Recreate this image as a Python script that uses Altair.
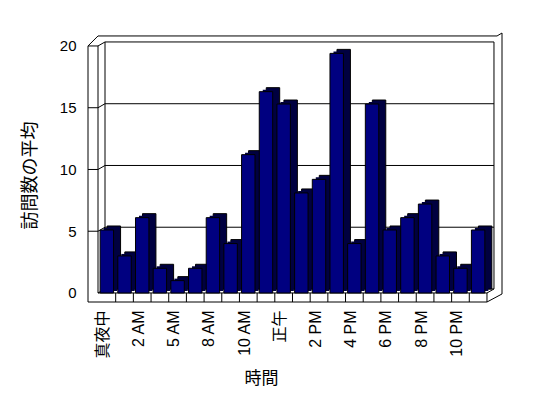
import json
import altair as alt
import pandas as pd

# ---- data -------------------------------------------------------------
hours = ["真夜中", "1 AM", "2 AM", "4 AM", "5 AM", "7 AM", "8 AM", "9 AM", "10 AM", "11 AM", "正午",
         "1 PM", "2 PM", "3 PM", "4 PM", "5 PM", "6 PM", "7 PM", "8 PM", "9 PM", "10 PM", "11 PM"]
visits = [5.1, 3.0, 6.1, 2.0, 1.0, 2.0, 6.1, 4.0, 11.2, 16.3, 15.3,
          8.1, 9.2, 19.4, 4.0, 15.3, 5.1, 6.1, 7.2, 3.0, 2.0, 5.1]
y_ticks = [0, 5, 10, 15, 20]
x_title = "時間"
y_title = "訪問数の平均"

# ---- 3D frame geometry (in axis units) --------------------------------
N = len(hours)
VMAX = y_ticks[-1]
WALL = 0.566     # left wall thickness
FLOOR = 0.73     # floor thickness
DU, DV = 0.396, 0.324   # depth offset
TOP = 20.81
XDOM = [-WALL, N + 0.85]
YDOM = [-FLOOR, 21.05]
PLOT_W, PLOT_H = 414, 269

FONT = "Liberation Sans, Noto Sans CJK JP"
label_js = json.dumps(hours, ensure_ascii=False)

xscale = alt.Scale(domain=XDOM, nice=False, zero=False)
yscale = alt.Scale(domain=YDOM, nice=False, zero=False)

xaxis = alt.Axis(
    values=[i + 0.5 for i in range(0, N, 2)],
    labelExpr=f"{label_js}[floor(datum.value)]",
    labelAngle=-90, labelAlign="right", labelBaseline="middle",
    labelPadding=8, labelOffset=-4, labelOverlap=False, labelFlush=False,
    labelFont=FONT, labelColor="black", labelFontSize=16,
    ticks=False, domain=False, grid=False,
    title=x_title, titleFont=FONT, titleFontSize=17, titleFontWeight="normal",
    titleColor="black", titleX=173, titleY=76, titleBaseline="middle", titleAlign="center",
)
yaxis = alt.Axis(
    values=y_ticks, labelPadding=12, labelFont=FONT, labelFontSize=15, labelColor="black",
    ticks=False, domain=False, grid=False,
    title=y_title, titleFont=FONT, titleFontSize=18, titleFontWeight="normal",
    titleColor="black", titleX=-58, titleY=142, titleBaseline="middle", titleAlign="center",
    titleAngle=-90,
)

# ---- frame lines --------------------------------------------------------
segs = []
def seg(name, pts):
    for k, (u, v) in enumerate(pts):
        segs.append({"seg": name, "o": k, "u": u, "v": v})

for g in y_ticks[1:]:
    seg(f"grid{g}", [(-WALL, g), (0, g), (DU, g + DV), (N + DU, g + DV)])
seg("floorback", [(0, 0), (DU, DV), (N + DU, DV)])
seg("backleft", [(DU, DV), (DU, VMAX + DV)])
seg("backright", [(N + DU, DV), (N + DU, VMAX + DV)])
seg("floorright", [(N, 0), (N + DU, DV)])
seg("wallouter", [(-WALL, -FLOOR), (-WALL, VMAX), (0, TOP), (N + 0.57, TOP),
                  (N + 0.85, YDOM[1]), (N + 0.85, -0.08), (N, -FLOOR), (-WALL, -FLOOR)])
seg("wallinner", [(0, 0), (0, VMAX)])
seg("floorfront", [(0, 0), (N, 0), (N, -FLOOR)])
for k in range(1, N):
    seg(f"cell{k}", [(k, 0), (k, -FLOOR)])
frame = pd.DataFrame(segs)

lines = alt.Chart(frame).mark_line(color="black", strokeWidth=1).encode(
    x=alt.X("u:Q", scale=xscale, axis=xaxis),
    y=alt.Y("v:Q", scale=yscale, axis=yaxis),
    detail="seg:N",
    order="o:Q",
)

# ---- bars ---------------------------------------------------------------
df = pd.DataFrame({"hour": hours, "visits": visits, "idx": list(range(N))})
base = alt.Chart(df).transform_calculate(x0="datum.idx + 0.12", x1="datum.idx + 0.88")

def bar_layer(dx, dy, fill, stroke):
    kw = dict(fill=fill, xOffset=dx, x2Offset=dx, yOffset=dy, y2Offset=dy)
    if stroke:
        kw.update(stroke="black", strokeWidth=1)
    return base.mark_rect(**kw).encode(
        x=alt.X("x0:Q", scale=xscale, axis=xaxis),
        x2="x1:Q",
        y=alt.Y("visits:Q", scale=yscale, axis=yaxis),
        y2=alt.datum(0),
    )

shadow = bar_layer(7, -4, "#000040", True)
shadow_mid = bar_layer(3.5, -2, "#000040", False)
front = bar_layer(0, 0, "#000080", True)

chart = alt.layer(lines, shadow, shadow_mid, front).properties(
    width=PLOT_W, height=PLOT_H,
    autosize=alt.AutoSizeParams(type="none"),
    padding={"left": 88, "top": 33, "right": 548 - 88 - PLOT_W, "bottom": 398 - 33 - PLOT_H},
    background="white",
).configure_view(stroke=None)

chart.save("out.html", embed_options={"renderer": "svg", "actions": False})
